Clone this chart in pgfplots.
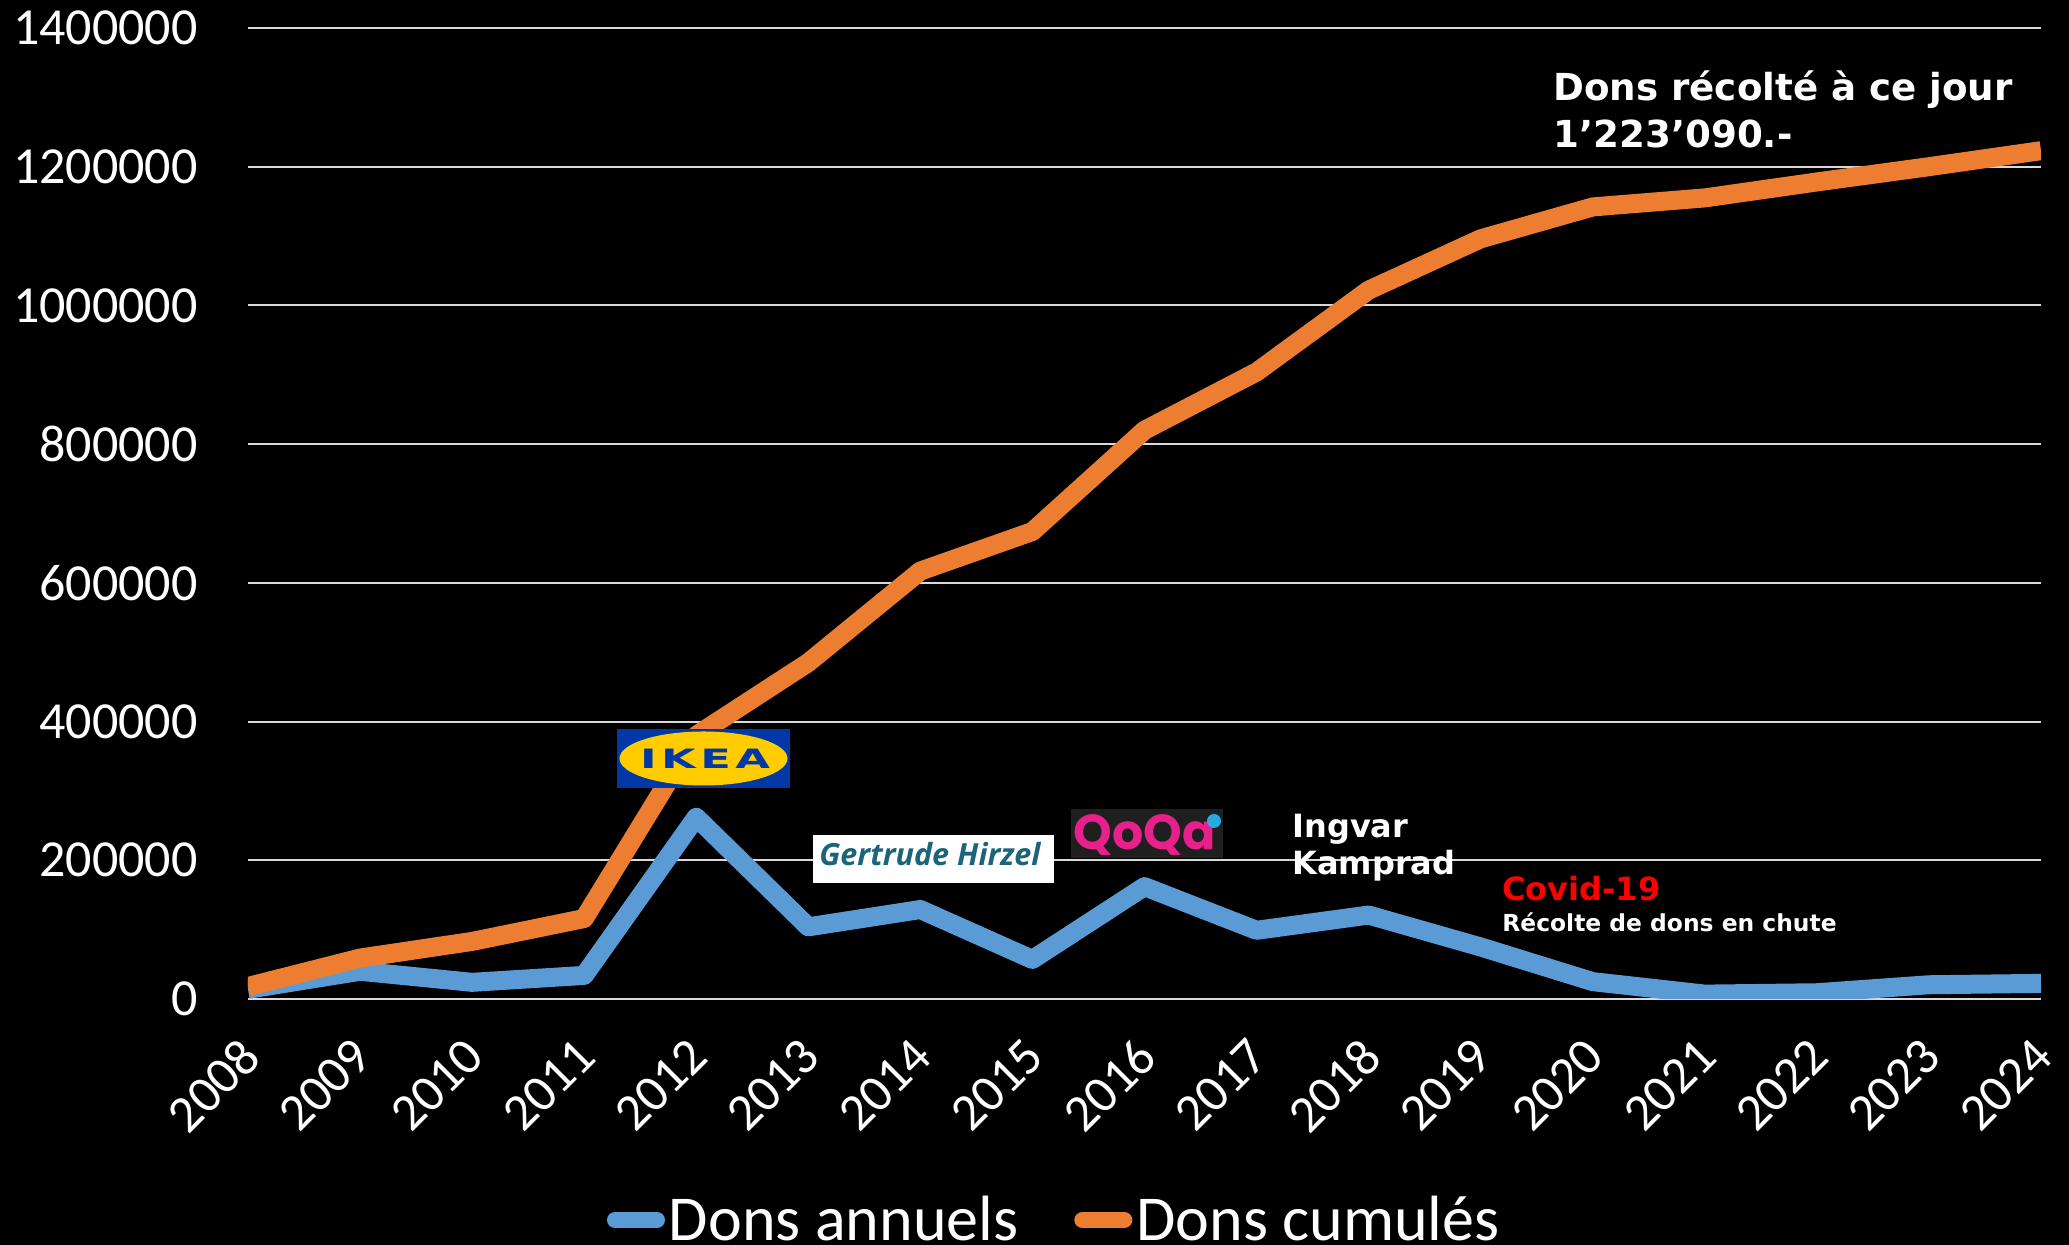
\documentclass[border=0pt]{standalone}
\usepackage{fontspec}
\usepackage{graphicx}
\usepackage{pgfplots}
\usepackage{pgfplotstable}
\pgfplotsset{compat=1.18}
\setmainfont{Carlito}
\newfontfamily\dv{DejaVu Sans}
\newfontfamily\oss{Open Sans}
\newfontfamily\pop{Poppins}

\definecolor{dblue}{RGB}{91,155,213}
\definecolor{dorange}{RGB}{237,125,49}
\definecolor{gridc}{RGB}{217,217,217}
\definecolor{ikeablue}{RGB}{0,56,168}
\definecolor{ikeayellow}{RGB}{255,204,0}
\definecolor{hirzel}{RGB}{28,100,122}
\definecolor{qoqapink}{RGB}{232,32,140}
\definecolor{qoqacyan}{RGB}{40,170,220}

\pgfplotstableread{
year annual cumul
2008 14000 18000
2009 40000 59000
2010 24000 83000
2011 34000 116000
2012 262000 380000
2013 104000 485000
2014 129000 617000
2015 57000 674000
2016 162000 820000
2017 99000 904000
2018 121000 1022000
2019 75000 1096000
2020 25000 1142000
2021 7000 1155000
2022 9000 1178000
2023 20500 1200000
2024 22500 1223090
}\datatable

\begin{document}
\begin{tikzpicture}
\path[use as bounding box, fill=black] (0,0) rectangle (1034.5pt,622.5pt);
\begin{axis}[
  at={(124pt,123pt)}, anchor=south west,
  scale only axis, width=896.5pt, height=485.5pt,
  xmin=2008, xmax=2024, ymin=0, ymax=1400000,
  axis line style={draw=none},
  major tick length=0pt,
  xtick={2008,2009,2010,2011,2012,2013,2014,2015,2016,2017,2018,2019,2020,2021,2022,2023,2024},
  xticklabels={2008,2009,2010,2011,2012,2013,2014,2015,2016,2017,2018,2019,2020,2021,2022,2023,2024},
  ytick={0,200000,400000,600000,800000,1000000,1200000,1400000},
  yticklabels={0,200000,400000,600000,800000,1000000,1200000,1400000},
  ymajorgrids, grid style={gridc, line width=1pt},
  tick label style={font=\fontsize{26pt}{30pt}\selectfont, text=white},
  yticklabel style={inner sep=0pt, xshift=-25pt},
  xticklabel style={xshift=-5pt, yshift=-18pt, rotate=45, anchor=north east, inner sep=0pt},
  legend style={at={(0.2,-0.2276)}, anchor=west, draw=none, fill=none, text=white,
    font=\fontsize{32pt}{37pt}\selectfont, inner sep=0pt,
    /tikz/every even column/.append style={column sep=26pt}},
  legend columns=2,
  legend image code/.code={\draw[#1, line width=8pt, line cap=round] (4pt,0pt) -- (25pt,0pt);},
]
\addplot[dblue, line width=9.5pt, line join=round] table[x=year, y=annual] {\datatable};
\addlegendentry{Dons annuels}
\addplot[dorange, line width=9.5pt, line join=round] table[x=year, y=cumul] {\datatable};
\addlegendentry{Dons cumulés}
\end{axis}

\begin{scope}[x=0.5pt, y=-0.5pt, yshift=622.5pt]
% total
\node[anchor=base west, inner sep=0, text=white, font=\dv\bfseries\fontsize{18.6pt}{22pt}\selectfont] at (1553,101) {Dons récolté à ce jour};
\node[anchor=base west, inner sep=0, text=white, font=\dv\bfseries\fontsize{18.6pt}{22pt}\selectfont] at (1553,148) {1’223’090.-};
% IKEA
\fill[ikeablue] (617,729) rectangle (790,788);
\fill[ikeayellow] (703.5,758.5) ellipse [x radius=84, y radius=27];
\node[text=ikeablue, inner sep=0] at (705,758.7) {\resizebox{65pt}{9.7pt}{\dv\bfseries I\kern0.1em K\kern0.1em E\kern0.1em A}};
% Gertrude Hirzel
\fill[white] (813,835) rectangle (1054,883);
\node[anchor=base west, inner sep=0, text=hirzel] at (819,866) {\resizebox{110.5pt}{!}{\oss\bfseries\itshape Gertrude Hirzel}};
% QoQa
\fill[black!88!white] (1071,809) rectangle (1223,858);
\node[anchor=base west, inner sep=0, text=qoqapink] at (1073,850) {\resizebox{71pt}{!}{\pop\bfseries QoQa}};
\fill[qoqacyan] (1214,821) circle [radius=7];
% Ingvar Kamprad
\node[anchor=base west, inner sep=0, text=white, font=\dv\bfseries\fontsize{16pt}{19pt}\selectfont] at (1292,838) {Ingvar};
\node[anchor=base west, inner sep=0, text=white, font=\dv\bfseries\fontsize{16pt}{19pt}\selectfont] at (1292,875) {Kamprad};
% Covid
\node[anchor=base west, inner sep=0, text=red, font=\dv\bfseries\fontsize{16pt}{19pt}\selectfont] at (1502,901) {Covid-19};
\node[anchor=base west, inner sep=0, text=white, font=\dv\bfseries\fontsize{11.7pt}{14pt}\selectfont] at (1502,932) {Récolte de dons en chute};
\end{scope}
\end{tikzpicture}
\end{document}
